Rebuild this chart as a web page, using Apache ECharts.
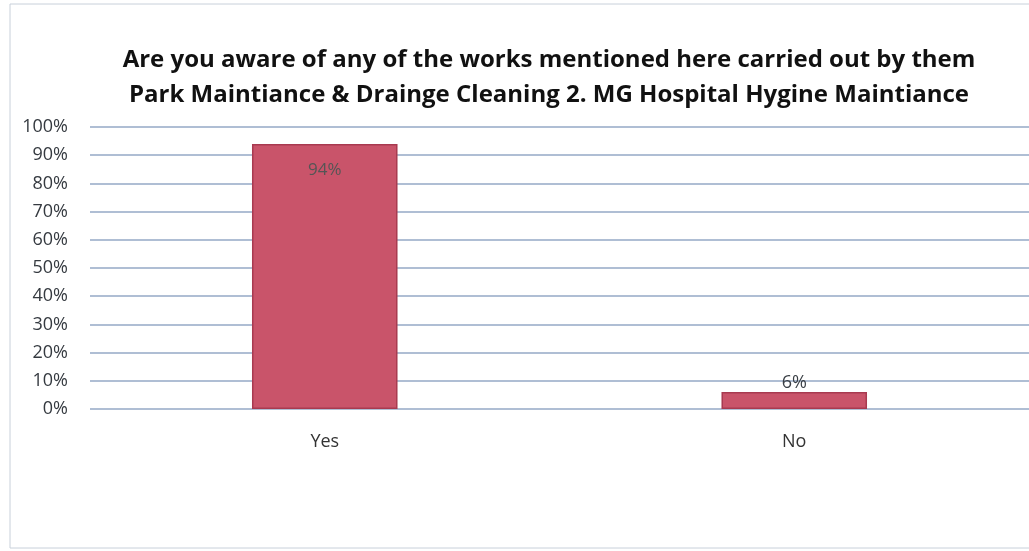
<html>
<head>
<meta charset="UTF-8">
<title>Awareness of works</title>
<script src="https://cdn.jsdelivr.net/npm/echarts@6/dist/echarts.min.js"></script>
<style>
  html, body { margin: 0; padding: 0; background: #fff; }
  #main { width: 1029px; height: 551px; }
</style>
</head>
<body>
<div id="main"></div>
<script type="text/javascript">
  var categories = ['Yes', 'No'];
  var values = [94, 6];
  var yTicks = { min: 0, max: 100, interval: 10 };

  var myChart = echarts.init(document.getElementById('main'));
  var font = 'Open Sans';

  var option = {
    backgroundColor: '#fff',
    title: {
      text: 'Are you aware of any of the works mentioned here carried out by them\nPark Maintiance & Drainge Cleaning 2. MG Hospital Hygine Maintiance',
      left: 544,
      textAlign: 'center',
      top: 38,
      textStyle: {
        fontFamily: font,
        fontWeight: 'bold',
        fontSize: 24,
        color: '#111',
        lineHeight: 35
      }
    },
    graphic: [{
      type: 'rect',
      shape: { x: 10, y: 4, width: 1030, height: 544 },
      style: { fill: 'none', stroke: '#c8d0da', lineWidth: 1 }
    }],
    grid: { left: 90, right: -2, top: 127, bottom: 142 },
    xAxis: {
      type: 'category',
      data: categories,
      axisLine: { show: false },
      axisTick: { show: false },
      axisLabel: { fontFamily: font, fontSize: 18, color: '#333', margin: 24 }
    },
    yAxis: {
      type: 'value',
      min: yTicks.min,
      max: yTicks.max,
      interval: yTicks.interval,
      axisLabel: { formatter: '{value}%', fontFamily: font, fontSize: 18, color: '#353a40', margin: 22 },
      splitLine: { lineStyle: { color: '#94a9c6', width: 1.5 } },
      axisLine: { show: false },
      axisTick: { show: false }
    },
    series: [{
      type: 'bar',
      data: values,
      barWidth: '31%',
      itemStyle: { color: '#c9546a', borderColor: '#a83a50', borderWidth: 1.5 },
      label: {
        show: true,
        formatter: '{c}%',
        fontFamily: font,
        fontSize: 17,
        color: '#555',
        position: 'insideTop',
        distance: 18
      }
    }]
  };
  // the small bar gets its label above
  option.series[0].data = values.map(function (v) {
    return v < 20 ? { value: v, label: { position: 'top', distance: 0, fontSize: 18, color: '#3a3f45' } } : v;
  });
  myChart.setOption(option);
</script>
</body>
</html>
